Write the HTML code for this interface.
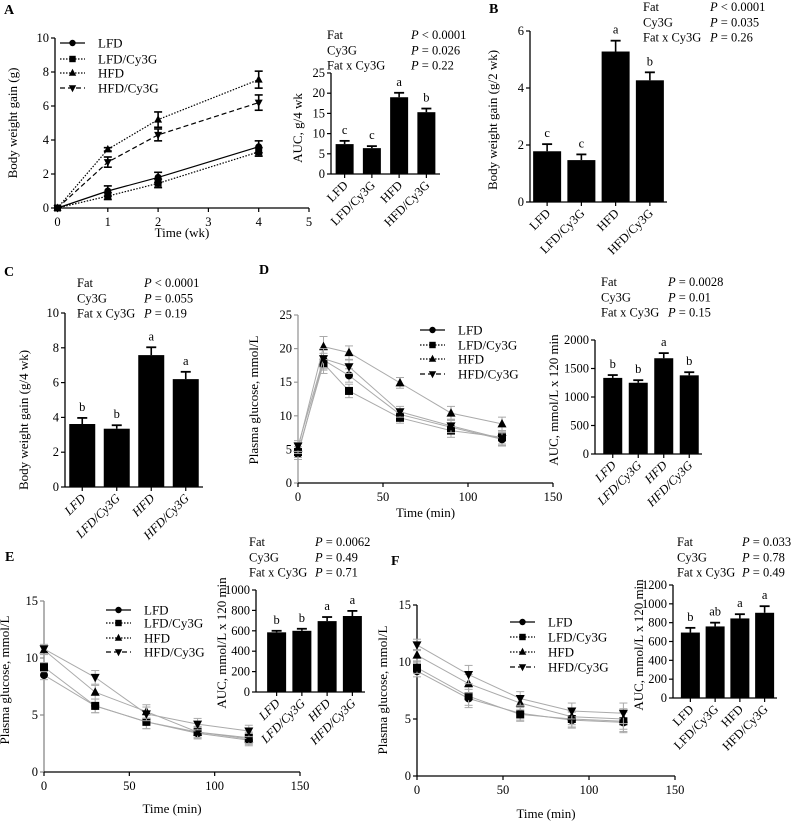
<!DOCTYPE html>
<html><head><meta charset="utf-8"><style>
html,body{margin:0;padding:0;background:#fff;}
svg{display:block;font-family:"Liberation Serif",serif;}
</style></head><body>
<svg id="fig" width="794" height="823" viewBox="0 0 794 823" xmlns="http://www.w3.org/2000/svg"></svg>
<script>
// ---------- DATA ----------
const groups = ["LFD","LFD/Cy3G","HFD","HFD/Cy3G"];
// Panel A line
const aTimes = [0,1,2,4];
const aLFD = [0,1.0,1.8,3.6];
const aLFDC = [0,0.7,1.45,3.3];
const aHFD = [0,3.45,5.2,7.55];
const aHFDC = [0,2.7,4.3,6.2];
const aErrLFD = [0,0.3,0.3,0.35];
const aErrLFDC = [0,0.2,0.25,0.25];
const aErrHFD = [0,0.1,0.45,0.5];
const aErrHFDC = [0,0.3,0.35,0.45];
const aXTicks = [0,1,2,3,4,5];
const aYTicks = [0,2,4,6,8,10];
// Panel A bar
const aBarVals = [7.4,6.4,19.0,15.3];
const aBarErr = [0.8,0.5,1.1,0.9];
const aBarLetters = ["c","c","a","b"];
const aBarTicks = [0,5,10,15,20,25];
// Panel B
const bVals = [1.78,1.47,5.28,4.27];
const bErr = [0.25,0.2,0.38,0.28];
const bLetters = ["c","c","a","b"];
const bTicks = [0,2,4,6];
// Panel C
const cVals = [3.62,3.35,7.58,6.2];
const cErr = [0.35,0.2,0.45,0.42];
const cLetters = ["b","b","a","a"];
const cTicks = [0,2,4,6,8,10];
// Panel D line
const dTimes = [0,15,30,60,90,120];
const dLFD = [4.3,18.3,16.0,10.2,8.3,6.5];
const dLFDC = [4.6,17.8,13.7,9.7,7.8,6.8];
const dHFD = [5.2,20.3,19.4,14.9,10.4,8.8];
const dHFDC = [5.5,18.5,17.3,10.6,8.5,6.6];
const dErr = [0.8,1.5,1.0,0.8,1.0,1.0];
const dXTicks = [0,50,100,150];
const dYTicks = [0,5,10,15,20,25];
// Panel D bar
const dBarVals = [1335,1250,1680,1380];
const dBarErr = [50,45,90,55];
const dBarLetters = ["b","b","a","b"];
const dBarTicks = [0,500,1000,1500,2000];
// Panel E line
const eTimes = [0,30,60,90,120];
const eLFD = [8.5,5.8,4.4,3.4,2.8];
const eLFDC = [9.2,5.8,4.4,3.5,3.0];
const eHFD = [10.7,7.0,5.3,3.5,2.9];
const eHFDC = [10.8,8.3,5.1,4.2,3.6];
const eErr = [0.4,0.6,0.6,0.5,0.5];
const eYTicks = [0,5,10,15];
// Panel E bar
const eBarVals = [585,600,695,745];
const eBarErr = [15,20,40,50];
const eBarLetters = ["b","b","a","a"];
const eBarTicks = [0,200,400,600,800,1000];
// Panel F line
const fTimes = [0,30,60,90,120];
const fLFD = [9.2,6.8,5.5,4.9,4.7];
const fLFDC = [9.5,7.0,5.4,5.0,4.8];
const fHFD = [10.6,8.1,6.4,5.2,5.0];
const fHFDC = [11.5,8.9,6.8,5.7,5.5];
const fErr = [0.5,0.8,0.6,0.7,0.9];
const fYTicks = [0,5,10,15];
// Panel F bar
const fBarVals = [695,760,845,905];
const fBarErr = [50,40,45,70];
const fBarLetters = ["b","ab","a","a"];
const fBarTicks = [0,200,400,600,800,1000,1200];

// ---------- DRAWING ----------
const NS = "http://www.w3.org/2000/svg";
const svg = document.getElementById("fig");
function el(tag, attrs, parent){
  const e = document.createElementNS(NS, tag);
  for (const k in attrs) e.setAttribute(k, attrs[k]);
  (parent || svg).appendChild(e);
  return e;
}
function txt(x, y, s, size, anchor, parent, extra){
  const t = el("text", Object.assign({x:x, y:y, "font-size":size, "text-anchor":anchor||"start", fill:"#000"}, extra||{}), parent);
  t.textContent = s;
  return t;
}
function group(name){
  const g = el("g", {});
  
  
  return g;
}
function marker(g, type, x, y, r){
  let m;
  if (type === 0) m = el("circle", {cx:x, cy:y, r:r, fill:"#000"}, g);
  else if (type === 1) m = el("rect", {x:x-r, y:y-r, width:2*r, height:2*r, fill:"#000"}, g);
  else if (type === 2) m = el("polygon", {points:`${x},${y-r-1} ${x-r-0.5},${y+r-0.5} ${x+r+0.5},${y+r-0.5}`, fill:"#000"}, g);
  else m = el("polygon", {points:`${x},${y+r+1} ${x-r-0.5},${y-r+0.5} ${x+r+0.5},${y-r+0.5}`, fill:"#000"}, g);
  return m;
}
const dashes = ["", "1.5,1.5", "1.5,1.5", "5,3"];

function yAxis(g, x, y0, y1, ticks, vmax, color, labelX){
  el("line", {x1:x, y1:y0, x2:x, y2:y1, stroke:color, "stroke-width":1.3}, g);
  ticks.forEach(v => {
    const y = y0 - (v / vmax) * (y0 - y1);
    el("line", {x1:x-4, y1:y, x2:x, y2:y, stroke:color, "stroke-width":1.2}, g);
    const t = txt(x-6, y+4, String(v), 12.5, "end", g);
    
  });
}

function lineChart(name, cfg){
  const g = group(name);
  const X = v => cfg.x0 + (v - cfg.xmin) / (cfg.xmax - cfg.xmin) * (cfg.x1 - cfg.x0);
  const Y = v => cfg.y0 - v / cfg.ymax * (cfg.y0 - cfg.y1);
  // axes
  yAxis(g, cfg.x0, cfg.y0, cfg.y1, cfg.yTicks, cfg.ymax, cfg.yAxisColor, 0);
  el("line", {x1:cfg.x0, y1:cfg.y0, x2:cfg.x1, y2:cfg.y0, stroke:"#000", "stroke-width":1.3}, g);
  cfg.xTicks.forEach(v => {
    el("line", {x1:X(v), y1:cfg.y0, x2:X(v), y2:cfg.y0+4, stroke:"#000", "stroke-width":1.2}, g);
    const t = txt(X(v), cfg.y0+18, String(v), 12.5, "middle", g);
    
  });
  const xt = txt((cfg.x0+cfg.x1)/2, cfg.y0+cfg.xTitleDy, cfg.xTitle, 13, "middle", g);
  
  const yt = txt(0, 0, cfg.yTitle, 13, "middle", g, {transform:`translate(${cfg.yTitleX},${cfg.yTitleY}) rotate(-90)`});
  
  // series
  cfg.series.forEach((s, si) => {
    const sg = el("g", {}, g);
    
    
    const pts = cfg.times.map((t, i) => X(t) + "," + Y(s[i])).join(" ");
    const pl = el("polyline", {points:pts, fill:"none", stroke:cfg.lineColor, "stroke-width":cfg.lineW, "stroke-dasharray": cfg.gray ? "" : dashes[si]}, sg);
    
    cfg.times.forEach((t, i) => {
      const e = cfg.errs[si][i];
      if (e > 0) {
        const x = X(t), ya = Y(s[i]+e), yb = Y(s[i]-e);
        el("line", {x1:x, y1:ya, x2:x, y2:yb, stroke:cfg.errColor, "stroke-width":cfg.errW}, sg);
        el("line", {x1:x-4, y1:ya, x2:x+4, y2:ya, stroke:cfg.errColor, "stroke-width":cfg.errW}, sg);
        el("line", {x1:x-4, y1:yb, x2:x+4, y2:yb, stroke:cfg.errColor, "stroke-width":cfg.errW}, sg);
      }
      const m = marker(sg, si, X(t), Y(s[i]), cfg.mr);
      
    });
  });
  // legend
  const lg = el("g", {}, g);
  
  
  groups.forEach((gname, i) => {
    const y = cfg.legY[i];
    el("line", {x1:cfg.legX, y1:y, x2:cfg.legX+25, y2:y, stroke:"#000", "stroke-width":1.2, "stroke-dasharray":dashes[i]}, lg);
    marker(lg, i, cfg.legX+12.5, y, 3.2);
    const t = txt(cfg.legX+38, y+4.5, gname, 13, "start", lg);
    
  });
}

function barChart(name, cfg){
  const g = group(name);
  const band = (cfg.xe - cfg.xs) / cfg.vals.length;
  const Y = v => cfg.y0 - v / cfg.ymax * (cfg.y0 - cfg.y1);
  yAxis(g, cfg.ax, cfg.y0, cfg.y1, cfg.ticks, cfg.ymax, "#000", 0);
  el("line", {x1:cfg.ax, y1:cfg.y0, x2:cfg.xe, y2:cfg.y0, stroke:"#000", "stroke-width":1.3}, g);
  cfg.vals.forEach((v, i) => {
    const cx = cfg.xs + (i + 0.5) * band;
    const top = Y(v), et = Y(v + cfg.errs[i]);
    const r = el("rect", {x:cx-cfg.bw/2, y:top, width:cfg.bw, height:cfg.y0-top, fill:"#000"}, g);
    
    
    el("line", {x1:cx, y1:top, x2:cx, y2:et, stroke:"#000", "stroke-width":1.6}, g);
    el("line", {x1:cx-5, y1:et, x2:cx+5, y2:et, stroke:"#000", "stroke-width":1.8}, g);
    el("line", {x1:cx, y1:cfg.y0, x2:cx, y2:cfg.y0+4, stroke:"#000", "stroke-width":1.2}, g);
    const lt = txt(cx, et - 7, cfg.letters[i], 12.5, "middle", g);
    
    const xl = txt(0, 0, groups[i], 12.5, "end", g, {transform:`translate(${cx+4},${cfg.y0+12}) rotate(-45)`, "font-style": cfg.italic ? "italic" : "normal"});
    
  });
  const yt = txt(0, 0, cfg.yTitle, 13, "middle", g, {transform:`translate(${cfg.yTitleX},${cfg.yTitleY}) rotate(-90)`});
  
  // stats
  const sg = el("g", {}, g);
  
  
  const labels = ["Fat","Cy3G","Fat x Cy3G"];
  labels.forEach((l, i) => {
    const y = cfg.statY + i * 15.3;
    txt(cfg.statX, y, l, 12.5, "start", sg);
    const p = txt(cfg.pX, y, "", 12.5, "start", sg);
    const it = el("tspan", {"font-style":"italic"}, p); it.textContent = "P";
    const rest = el("tspan", {}, p); rest.textContent = " " + cfg.pvals[i];
  });
}
function panelLabel(s, x, y){
  const t = txt(x, y, s, 14, "start", svg, {"font-weight":"bold"});
  
}

panelLabel("A", 4, 14);
panelLabel("B", 489, 13);
panelLabel("C", 4, 276);
panelLabel("D", 259, 274);
panelLabel("E", 5, 561);
panelLabel("F", 391, 565);

lineChart("panel-a-line-chart", {x0:55, x1:309, xmin:-0.05, xmax:5, y0:208, y1:38, ymax:10,
  xTicks:aXTicks, yTicks:aYTicks, times:aTimes, series:[aLFD,aLFDC,aHFD,aHFDC],
  errs:[aErrLFD,aErrLFDC,aErrHFD,aErrHFDC], lineColor:"#000", lineW:1.2, gray:false,
  errColor:"#000", errW:1.6, mr:3.5, yAxisColor:"#000",
  xTitle:"Time (wk)", xTitleDy:29, yTitle:"Body weight gain (g)", yTitleX:17, yTitleY:123,
  legX:60, legY:[43,59,73,88]});
barChart("panel-a-auc-bar-chart", {ax:331, xs:331, xe:440, y0:174, y1:73, ymax:25, ticks:aBarTicks,
  vals:aBarVals, errs:aBarErr, letters:aBarLetters, bw:18, italic:false,
  yTitle:"AUC, g/4  wk", yTitleX:302, yTitleY:128,
  statX:327, pX:411, statY:39, pvals:["< 0.0001","= 0.026","= 0.22"]});
barChart("panel-b-bar-chart", {ax:530, xs:530, xe:667, y0:202, y1:31, ymax:6, ticks:bTicks,
  vals:bVals, errs:bErr, letters:bLetters, bw:28, italic:false,
  yTitle:"Body weight gain (g/2 wk)", yTitleX:497, yTitleY:120,
  statX:643, pX:710, statY:11, pvals:["< 0.0001","= 0.035","= 0.26"]});
barChart("panel-c-bar-chart", {ax:65, xs:65, xe:203, y0:487, y1:313, ymax:10, ticks:cTicks,
  vals:cVals, errs:cErr, letters:cLetters, bw:26, italic:true,
  yTitle:"Body weight gain (g/4 wk)", yTitleX:28, yTitleY:420,
  statX:77, pX:144, statY:287, pvals:["< 0.0001","= 0.055","= 0.19"]});
lineChart("panel-d-line-chart", {x0:298, x1:553, xmin:0, xmax:150, y0:483, y1:315, ymax:25,
  xTicks:dXTicks, yTicks:dYTicks, times:dTimes, series:[dLFD,dLFDC,dHFD,dHFDC],
  errs:[dErr,dErr,dErr,dErr], lineColor:"#aaa", lineW:1, gray:true,
  errColor:"#aaa", errW:1, mr:4, yAxisColor:"#999",
  xTitle:"Time (min)", xTitleDy:34, yTitle:"Plasma glucose, mmol/L", yTitleX:258, yTitleY:400,
  legX:420, legY:[330,345,359,374]});
barChart("panel-d-auc-bar-chart", {ax:595, xs:600, xe:702, y0:454, y1:340, ymax:2000, ticks:dBarTicks,
  vals:dBarVals, errs:dBarErr, letters:dBarLetters, bw:19, italic:true,
  yTitle:"AUC,  mmol/L x 120 min", yTitleX:558, yTitleY:400,
  statX:601, pX:668, statY:286, pvals:["= 0.0028","= 0.01","= 0.15"]});
lineChart("panel-e-line-chart", {x0:44, x1:300, xmin:0, xmax:150, y0:772, y1:601, ymax:15,
  xTicks:dXTicks, yTicks:eYTicks, times:eTimes, series:[eLFD,eLFDC,eHFD,eHFDC],
  errs:[eErr,eErr,eErr,eErr], lineColor:"#aaa", lineW:1, gray:true,
  errColor:"#aaa", errW:1, mr:4, yAxisColor:"#888",
  xTitle:"Time (min)", xTitleDy:41, yTitle:"Plasma glucose, mmol/L", yTitleX:9, yTitleY:680,
  legX:106, legY:[610,623,638,652]});
barChart("panel-e-auc-bar-chart", {ax:256, xs:264, xe:365, y0:692, y1:590, ymax:1000, ticks:eBarTicks,
  vals:eBarVals, errs:eBarErr, letters:eBarLetters, bw:19, italic:true,
  yTitle:"AUC, mmol/L x 120 min", yTitleX:226, yTitleY:643,
  statX:249, pX:315, statY:546, pvals:["= 0.0062","= 0.49","= 0.71"]});
lineChart("panel-f-line-chart", {x0:417, x1:675, xmin:0, xmax:150, y0:776, y1:605, ymax:15,
  xTicks:dXTicks, yTicks:fYTicks, times:fTimes, series:[fLFD,fLFDC,fHFD,fHFDC],
  errs:[fErr,fErr,fErr,fErr], lineColor:"#aaa", lineW:1, gray:true,
  errColor:"#aaa", errW:1, mr:4, yAxisColor:"#000",
  xTitle:"Time (min)", xTitleDy:42, yTitle:"Plasma glucose, mmol/L", yTitleX:387, yTitleY:690,
  legX:510, legY:[622,637,652,667]});
barChart("panel-f-auc-bar-chart", {ax:673, xs:678, xe:777, y0:698, y1:585, ymax:1200, ticks:fBarTicks,
  vals:fBarVals, errs:fBarErr, letters:fBarLetters, bw:19, italic:false,
  yTitle:"AUC, mmol/L x 120 min", yTitleX:643, yTitleY:645,
  statX:677, pX:742, statY:546, pvals:["= 0.033","= 0.78","= 0.49"]});
</script>
</body></html>
